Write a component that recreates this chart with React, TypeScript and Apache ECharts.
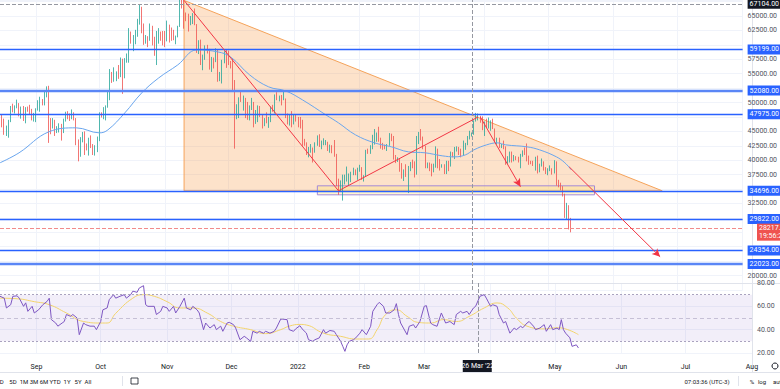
import React, { useEffect, useRef } from 'react';
import * as echarts from 'echarts';

// ---- DATA (BTC daily, [open, close, low, high]) ----
const START_DATE = '2021-08-15';
const END_DATE = '2022-08-01';

const AUG21 = [
  [47100,47000,45500,47400],[47000,45900,45700,48000],[45900,44700,44400,47200],[44700,44800,44200,46000],
  [44800,46800,43900,47000],[46800,49300,46600,49400],[49300,48900,48300,49800],[48900,49300,48100,49500],
  [49300,49500,49000,50500],[49500,47700,47600,49900],[47700,48900,47200,49300],[48900,47000,46800,49400],
  [47000,49100,46400,49200],[49100,48900,48400,49300],[48900,48800,48000,49600],[48800,47000,46900,48900],
  [47000,47200,46700,48200]
];
const SEP21 = [
  [47200,48800,46600,49000],[48800,49300,48600,50400],[49300,50000,48400,51000],[50000,49900,49500,50600],
  [49900,51800,49500,51900],[51800,52700,50900,52800],[52700,46900,43000,52900],[46900,46100,44500,47300],
  [46100,46400,45500,47300],[46400,44800,44200,47000],[44800,45200,44700,45900],[45200,46100,44800,46400],
  [46100,44900,43400,46300],[44900,47100,44700,47200],[47100,48100,46700,48400],[48100,47800,47100,48500],
  [47800,47300,46800,48100],[47300,48300,47100,48800],[48300,47200,46900,48300],[47200,43000,42600,47300],
  [43000,40700,39800,43600],[40700,43600,40600,44000],[43600,44900,43100,44900],[44900,42800,40900,45000],
  [42800,42700,41700,42900],[42700,43200,40800,43900],[43200,42200,42100,44300],[42200,41000,40900,42800],
  [41000,41500,40800,42600],[41500,43800,41400,44100]
];
const OCT21 = [
  [43800,48100,43300,48300],[48100,47700,47400,48300],[47700,48200,47100,49200],[48200,49200,46900,49500],
  [49200,51500,49100,51900],[51500,55300,50400,55800],[55300,53800,53400,55300],[53800,53900,53600,56100],
  [53900,55000,53700,55400],[55000,54700,54100,56500],[54700,57500,54400,57800],[57500,56000,51500,57600],
  [56000,57400,54200,57700],[57400,57400,56900,58500],[57400,61700,56900,62900],[61700,60900,60200,62300],
  [60900,61500,58900,61700],[61500,62000,60100,62600],[62000,64300,61400,64500],[64300,66000,63500,67000],
  [66000,62200,62000,66600],[62200,60700,60000,63700],[60700,61300,60200,61700],[61300,60800,59600,61500],
  [60800,63100,60700,63700],[63100,60300,59900,63300],[60300,58400,58100,61400],[58400,60600,56500,62400],
  [60600,62300,60200,62900],[62300,61900,60700,62300],[61900,61300,59900,62400]
];
const NOV21 = [
  [61300,61000,59600,62400],[61000,63200,60600,64200],[63200,62900,60400,63500],[62900,61400,60700,63000],
  [61400,61000,60800,62600],[61000,61500,60100,61600],[61500,63300,61300,63300],[63300,67500,63100,67800],
  [67500,66900,66300,68500],[66900,64900,62800,69000],[64900,64800,64100,65600],[64800,64200,62300,65400],
  [64200,64400,63400,65000],[64400,65500,63600,65500],[65500,63600,63400,66300],[63600,60100,58600,63600],
  [60100,60400,58400,60800],[60400,56900,56500,60900],[56900,58100,55600,58300],[58100,59700,57400,59900],
  [59700,58700,58500,60000],[58700,56300,55700,59300],[56300,57600,55300,57900],[57600,57200,55900,57800],
  [57200,58900,57000,59400],[58900,53700,53600,59200],[53700,54700,53700,55300],[54700,57300,53300,57400],
  [57300,57800,56800,58900],[57800,57000,56000,59200]
];
const DEC21 = [
  [57000,56900,56500,59000],[56900,56500,55900,57200],[56500,53600,52000,57600],[53600,49200,42000,53900],
  [49200,49400,47100,49700],[49400,50600,47300,50900],[50600,50500,50100,51900],[50500,50600,48600,51200],
  [50600,47600,47300,50800],[47600,47100,47000,50100],[47100,49400,46900,49500],[49400,50100,48700,50800],
  [50100,46700,45700,50100],[46700,48400,46300,48700],[48400,48900,46600,49500],[48900,47600,47500,49400],
  [47600,46200,45500,48000],[46200,46800,45900,47300],[46800,46700,46400,48300],[46700,46900,45600,47500],
  [46900,49000,46600,49300],[49000,48600,48400,49600],[48600,50800,48100,51400],[50800,50400,50400,51800],
  [50400,50800,50200,51200],[50800,50700,49500,51300],[50700,50700,50400,52000],[50700,47500,47300,50700],
  [47500,46500,46200,48100],[46500,47100,46000,47900],[47100,46200,45700,48500]
];
const JAN22 = [
  [46200,47700,46200,47900],[47700,47300,46700,47900],[47300,46400,45700,47500],[46400,45800,45500,47500],
  [45800,43400,42500,47000],[43400,43100,42500,43700],[43100,41600,40900,43100],[41600,41700,40500,42300],
  [41700,41900,41300,42800],[41900,41800,39600,42200],[41800,42700,41300,43100],[42700,43900,42500,44300],
  [43900,42600,42300,44500],[42600,43100,41900,43400],[43100,43100,42600,43800],[43100,43150,42600,43500],
  [43100,42200,41600,43200],[42200,42400,41300,42700],[42400,41700,41200,42600],[41700,40700,40600,43500],
  [40700,36500,35500,41100],[36500,35100,34000,36800],[35100,36300,34600,36500],[36300,36700,33000,37500],
  [36700,36900,35800,37500],[36900,37000,36300,38900],[37000,37100,35600,37700],[37100,37800,36200,38000],
  [37800,38200,37400,38700],[38200,37900,37400,38400],[37900,38500,36600,38700]
];
const FEB22 = [
  [38500,38700,38000,39200],[38700,36900,36600,38800],[36900,37300,36300,37400],[37300,41600,37100,41800],
  [41600,41400,41100,42000],[41400,42400,41100,42600],[42400,43800,41900,44400],[43800,44100,42700,45400],
  [44100,44400,43200,44800],[44400,43600,43200,45800],[43600,42400,42000,43900],[42400,42200,41800,43000],
  [42200,42100,41900,42700],[42100,42600,41600,42800],[42600,44600,42500,44700],[44600,44000,43300,44600],
  [44000,40600,40100,44200],[40600,40000,39500,40900],[40000,40100,39700,40500],[40100,38400,38000,40200],
  [38400,37000,36800,39500],[37000,38300,36400,38400],[38300,37300,37100,39300],[37300,38300,34300,39000],
  [38300,39200,38100,39700],[39200,39100,38600,40100],[39100,37700,37000,39800],[37700,43200,37500,44200]
];
const MAR22 = [
  [43200,44400,42800,44900],[44400,44000,43400,45400],[44000,42500,41900,44100],[42500,39100,38600,42500],
  [39100,39400,38600,39600],[39400,38400,38100,39600],[38400,38000,37200,39400],[38000,38700,37900,39400],
  [38700,41900,38700,42400],[41900,39400,38600,42000],[39400,38800,38200,40200],[38800,38850,38700,39300],
  [38800,37800,37600,39300],[37800,39700,37600,39900],[39700,39300,38100,39900],[39300,41100,38900,41500],
  [41100,40900,40500,41400],[40900,41800,40200,42300],[41800,42200,41500,42400],[42200,41300,40900,42300],
  [41300,41000,40500,42000],[41000,42400,40900,43400],[42400,42900,41800,43000],[42900,44000,42600,44200],
  [44000,44300,43600,45100],[44300,44500,44100,44800],[44500,46800,44400,46900],[46800,47100,46700,48200],
  [47100,47400,46900,48100],[47400,47100,46500,47700],[47100,45500,45200,47600]
];
const APR22 = [
  [45500,46300,44200,46700],[46300,45800,45600,47200],[45800,46400,45500,47400],[46400,46600,45100,46900],
  [46600,45500,45400,47200],[45500,43200,43100,45500],[43200,43400,42700,43900],[43400,42300,42100,43900],
  [42300,42800,42100,42800],[42800,42200,41900,43400],[42200,39500,39200,42400],[39500,40100,39300,40700],
  [40100,41100,39600,41500],[41100,39900,39600,41500],[39900,40600,39800,40900],[40600,40400,40000,40700],
  [40400,39700,39600,40600],[39700,40800,38600,41100],[40800,41500,40600,41700],[41500,41400,40900,42200],
  [41400,40500,39800,42900],[40500,39700,39200,40800],[39700,39500,39300,39900],[39500,39450,39000,39900],
  [39500,40400,38200,40600],[40400,38100,37700,40800],[38100,39200,37900,39400],[39200,39700,38900,40300],
  [39700,38600,38200,39800],[38600,37700,37600,38800]
];
const MAY22 = [
  [37700,38500,37400,38600],[38500,38550,38100,39100],[38500,37700,37500,38600],[37700,39700,37700,40000],
  [39700,36600,35600,39800],[36600,36000,35300,36600],[36000,35500,34800,36100],[35500,34100,33700,35500],
  [34100,30100,30000,34200],[30100,31000,29800,32600],[31000,29100,28000,32200],[29100,28217,27500,30000]
];

// Moving average: [date, value]
const MA_LINE: [string, number][] = [
  ['2021-08-15',39550],['2021-08-24',41280],['2021-09-07',44910],['2021-09-20',45610],['2021-10-01',44740],
  ['2021-10-05',45260],['2021-10-13',48200],['2021-10-21',51670],['2021-10-29',54260],['2021-11-07',56515],
  ['2021-11-16',59110],['2021-11-26',58770],['2021-12-02',57900],['2021-12-11',54785],['2021-12-20',52710],
  ['2021-12-28',52010],['2022-01-05',50450],['2022-01-16',47860],['2022-01-22',46470],['2022-01-30',44400],
  ['2022-02-08',43010],['2022-02-16',42320],['2022-02-24',41450],['2022-03-04',41280],['2022-03-12',40760],
  ['2022-03-18',40580],['2022-03-23',40930],['2022-03-27',41800],['2022-04-02',42660],['2022-04-07',43010],
  ['2022-04-11',42660],['2022-04-21',42320],['2022-04-27',41800],['2022-05-05',40580],['2022-05-09',39550],
  ['2022-05-12',38330]
];

// RSI: [day offset from START_DATE, value]
const RSI_LINE: [number, number][] = [
  [0,68.6],[2,67],[3,58.6],[5,61.4],[6,68.6],[8,69],[9,67],[11,60],[12,63],[13,55.7],[15,60],[16,54.3],[18,57],
  [20,61.4],[22,64.3],[23,67],[24,48.6],[26,45.7],[27,43],[29,45.7],[30,47],[31,53],[33,51.4],[34,53],[36,50],
  [37,35.7],[39,45.7],[40,44.3],[42,43],[44,43],[45,40],[47,47],[48,57],[50,58.6],[51,65.7],[53,70],[54,67],
  [56,68.6],[58,70],[59,67],[61,70],[62,73],[64,72],[65,75.7],[67,77.7],[68,61.4],[69,60],[72,60],[73,53],
  [75,55.7],[76,60],[78,58.6],[79,55.7],[81,60],[82,54.3],[84,60],[86,67],[87,58.6],[89,57],[90,60],[92,57],
  [93,54.3],[95,40],[96,45.7],[98,41.4],[100,44.3],[101,40],[103,43],[104,38.6],[106,45.7],[107,46.3],[109,44.3],
  [110,41.4],[112,31.4],[114,34.3],[115,33],[117,30],[118,38.6],[120,37],[121,38.6],[123,37],[124,38.6],[126,37],
  [128,38.6],[129,41.4],[131,49],[132,49],[134,48.6],[135,40],[137,38.6],[138,40.7],[140,43.4],[141,40.7],
  [143,37.1],[144,31.4],[146,30],[147,31.4],[149,32.9],[151,40],[152,37],[154,39.3],[156,38.6],[157,35.7],
  [159,30],[160,25.7],[161,21.4],[162,27],[163,30],[165,31.4],[166,32.9],[168,37],[169,40],[171,35.7],[173,42.9],
  [174,55.7],[176,61.4],[177,63.4],[179,60],[180,54.3],[182,54.3],[184,57],[185,62.3],[186,52.9],[187,45.7],
  [190,35.7],[191,42.9],[193,44.3],[194,41.4],[196,47],[198,60],[199,60.6],[201,45.7],[202,44.3],[204,42.9],
  [206,54.3],[208,45.7],[210,47],[212,44.3],[213,53],[215,55.7],[216,54.3],[218,55.7],[219,53],[221,58.6],
  [222,60],[224,68.6],[226,70],[227,67],[229,60],[230,61.4],[232,60],[233,53],[235,45.7],[236,47],[238,37],
  [240,41.4],[241,40],[243,42.9],[244,41.6],[246,45.7],[247,47],[249,43],[250,40],[252,41.4],[254,44.3],
  [255,38.6],[257,44.3],[258,40],[260,41.4],[261,40],[262,48.6],[263,40],[264,37],[266,33],[267,25.7],[269,27],
  [270,24.3]
];
const RSI_MA_LINE: [number, number][] = [
  [0,67],[8,66.5],[16,64],[23,61.4],[31,54.3],[39,47],[47,45.7],[50,45.7],[54,54],[62,67],[67,70],[72,68.6],
  [78,64],[84,58.6],[90,58.6],[97,54],[103,47],[109,43],[117,40],[124,36.6],[131,40],[135,43],[140,44.5],
  [143,44],[151,37],[159,34.3],[166,32],[172,32],[176,40],[180,53],[185,57],[190,51.4],[195,46.3],[201,45.7],
  [207,48.6],[213,47],[219,51.4],[226,58.6],[232,62.9],[237,58.6],[241,50],[246,43],[254,40.7],[260,41.6],
  [265,40],[270,35.7]
];

const LEVELS = [59199, 52080, 47975, 34696, 29822, 24354, 22023];
const DOUBLE_LEVELS = [52080, 22023];
const LAST_PRICE = 28217.2;
const LAST_COUNTDOWN = '19:56:26';
const CROSS_PRICE = 67104;
const CROSS_DATE = '2022-03-26';
const CROSS_LABEL = "26 Mar '22";
const HIDDEN_TICKS = [67500, 60000, 52500, 47500, 35000, 30000, 27500, 25000, 22500];
const MONTHS = ['Jan','Feb','Mar','Apr','May','Jun','Jul','Aug','Sep','Oct','Nov','Dec'];
const RANGE_BUTTONS = ['1D', '5D', '1M', '3M', '6M', 'YTD', '1Y', '5Y', 'All'];

// drawings in data space: [date, price]
const TRIANGLE: [string, number][] = [['2021-11-10', 67700], ['2022-06-24', 34696], ['2021-11-10', 34696]];
const ZONE_RECT: [string, number][] = [['2022-01-12', 35560], ['2022-05-23', 34000]];
const RED_LINES: { from: [string, number]; to: [string, number]; arrow: boolean }[] = [
  { from: ['2021-11-10', 67700], to: ['2022-01-22', 34696], arrow: false },
  { from: ['2022-01-22', 34696], to: ['2022-03-29', 47500], arrow: false },
  { from: ['2022-03-30', 47500], to: ['2022-04-18', 35400], arrow: true },
  { from: ['2022-05-11', 38850], to: ['2022-06-23', 23270], arrow: true },
];

function buildDates(start: string, end: string): string[] {
  const out: string[] = [];
  const d = new Date(start + 'T00:00:00Z');
  const e = new Date(end + 'T00:00:00Z');
  while (d.getTime() <= e.getTime()) {
    out.push(d.toISOString().slice(0, 10));
    d.setUTCDate(d.getUTCDate() + 1);
  }
  return out;
}

export default function App() {
  const ref = useRef<HTMLDivElement>(null);
  useEffect(() => {
    if (!ref.current) return;
    const chart = echarts.init(ref.current, null, { renderer: 'svg' });
    const dates = buildDates(START_DATE, END_DATE);
    const idx = (d: string) => dates.indexOf(d);
    const candles = [...AUG21, ...SEP21, ...OCT21, ...NOV21, ...DEC21, ...JAN22, ...FEB22, ...MAR22, ...APR22, ...MAY22];
    const isMonthStart = (_i: number, v: string) => v.slice(8) === '01';
    const font = 'Roboto, "Noto Sans", sans-serif';
    const axisLabelStyle = { fontSize: 7, color: '#50535e', fontFamily: font };
    const fmtPrice = (v: number) => Number(v).toFixed(2);
    const boxLabel = (bg: string, text?: string) => ({
      show: true, position: 'end', distance: 5, formatter: text ? text : (p: any) => fmtPrice(p.value),
      backgroundColor: bg, color: '#ffffff', fontSize: 7, padding: [1, 3, 1, 2], fontFamily: font, lineHeight: 8,
    });

    const levelLines: any[] = LEVELS.map((v) => ({
      yAxis: v,
      lineStyle: DOUBLE_LEVELS.includes(v)
        ? { color: '#5a86f6', width: 2.4, type: 'solid' }
        : { color: '#2962ff', width: 1.3, type: 'solid' },
      label: boxLabel('#2962ff'),
    }));
    levelLines.push({
      yAxis: LAST_PRICE,
      lineStyle: { color: '#f28b8b', width: 1, type: 'dashed' },
      label: { show: false },
    });
    levelLines.push({
      yAxis: CROSS_PRICE,
      lineStyle: { color: '#9598a1', width: 1, type: 'dashed' },
      label: boxLabel('#131722', CROSS_PRICE.toFixed(2)),
    });
    levelLines.push({
      xAxis: idx(CROSS_DATE),
      lineStyle: { color: '#9598a1', width: 1, type: 'dashed' },
      label: { show: false },
    });

    const redLines = RED_LINES.map((l) => [
      { coord: [idx(l.from[0]), l.from[1]], symbol: 'none' },
      { coord: [idx(l.to[0]), l.to[1]], symbol: l.arrow ? 'arrow' : 'none', symbolSize: [6, 8] },
    ]);

    const option: any = {
      animation: false,
      backgroundColor: '#ffffff',
      textStyle: { fontFamily: font },
      grid: [
        { left: 0, right: 28, top: 0, height: 290 },
        { left: 0, right: 28, top: 283, height: 70 },
      ],
      xAxis: [
        {
          type: 'category', gridIndex: 0, data: dates, boundaryGap: false,
          axisLine: { show: false }, axisTick: { show: false }, axisLabel: { show: false },
          splitLine: { show: true, interval: isMonthStart, lineStyle: { color: '#f0f3fa', width: 1 } },
        },
        {
          type: 'category', gridIndex: 1, data: dates, boundaryGap: false,
          axisLine: { show: false }, axisTick: { show: false },
          splitLine: { show: true, interval: isMonthStart, lineStyle: { color: '#f0f3fa', width: 1 } },
          axisLabel: {
            ...axisLabelStyle, margin: 10, color: '#131722', showMaxLabel: true,
            interval: (_i: number, v: string) => v.slice(8) === '01' && v.slice(5, 7) !== '04',
            formatter: (v: string) => (v.slice(5, 7) === '01' ? v.slice(0, 4) : MONTHS[Number(v.slice(5, 7)) - 1]),
          },
        },
      ],
      yAxis: [
        {
          type: 'value', gridIndex: 0, position: 'right', min: 17500, max: 67771, interval: 2500, scale: true,
          axisLine: { show: false }, axisTick: { show: false },
          splitLine: { show: true, lineStyle: { color: '#f0f3fa' } },
          axisLabel: {
            ...axisLabelStyle, margin: 5, showMinLabel: false, showMaxLabel: false,
            formatter: (v: number) => (HIDDEN_TICKS.includes(v) ? '' : fmtPrice(v)),
          },
        },
        {
          type: 'value', gridIndex: 1, position: 'right', min: 20, max: 80, interval: 20,
          axisLine: { show: false }, axisTick: { show: false },
          splitLine: { show: true, lineStyle: { color: '#f0f3fa' } },
          axisLabel: { ...axisLabelStyle, margin: 5, formatter: (v: number) => v.toFixed(2) },
        },
      ],
      series: [
        {
          type: 'custom', name: 'triangle', xAxisIndex: 0, yAxisIndex: 0, z: 1, clip: true, silent: true,
          data: [[0, 0]],
          renderItem: (_p: any, api: any) => {
            const tri = TRIANGLE.map((p) => api.coord([idx(p[0]), p[1]]));
            const r0 = api.coord([idx(ZONE_RECT[0][0]), ZONE_RECT[0][1]]);
            const r1 = api.coord([idx(ZONE_RECT[1][0]), ZONE_RECT[1][1]]);
            return {
              type: 'group',
              children: [
                { type: 'polygon', shape: { points: tri }, style: { fill: 'rgba(249,160,80,0.3)', stroke: '#f5a35a', lineWidth: 1 } },
                {
                  type: 'rect',
                  shape: { x: r0[0], y: r0[1], width: r1[0] - r0[0], height: r1[1] - r0[1] },
                  style: { fill: 'rgba(255,230,120,0.35)', stroke: '#a389d8', lineWidth: 1 },
                },
              ],
            };
          },
        },
        {
          type: 'candlestick', name: 'BTC', xAxisIndex: 0, yAxisIndex: 0, z: 3,
          data: candles, barWidth: 1.2,
          itemStyle: { color: '#26a69a', color0: '#ef5350', borderColor: '#26a69a', borderColor0: '#ef5350', borderWidth: 0.8 },
          markLine: { silent: true, symbol: ['none', 'none'], animation: false, data: levelLines },
        },
        {
          type: 'line', name: 'MA', xAxisIndex: 0, yAxisIndex: 0, z: 4,
          data: MA_LINE.map((p) => [idx(p[0]), p[1]]), smooth: 0.4, showSymbol: false,
          lineStyle: { color: '#6aa6ee', width: 1 },
          markLine: {
            silent: true, symbol: ['none', 'none'], animation: false,
            lineStyle: { color: '#f23645', width: 1, type: 'solid' },
            itemStyle: { color: '#f23645' },
            label: { show: false },
            data: redLines,
          },
        },
        {
          type: 'line', name: 'RSI', xAxisIndex: 1, yAxisIndex: 1, z: 4,
          data: RSI_LINE, showSymbol: false, lineStyle: { color: '#7e57c2', width: 1 },
          markArea: { silent: true, itemStyle: { color: 'rgba(126,87,194,0.1)' }, data: [[{ yAxis: 70 }, { yAxis: 30 }]] },
          markLine: {
            silent: true, symbol: ['none', 'none'], animation: false, label: { show: false },
            data: [
              { yAxis: 70, lineStyle: { color: '#aaa3bf', type: [2, 2], width: 1 } },
              { yAxis: 50, lineStyle: { color: '#c6c0d6', type: [4, 3], width: 1 } },
              { yAxis: 30, lineStyle: { color: '#aaa3bf', type: [2, 2], width: 1 } },
              { xAxis: idx(CROSS_DATE), lineStyle: { color: '#9598a1', type: 'dashed', width: 1 } },
            ],
          },
        },
        {
          type: 'line', name: 'RSI MA', xAxisIndex: 1, yAxisIndex: 1, z: 3,
          data: RSI_MA_LINE, smooth: 0.5, showSymbol: false, lineStyle: { color: '#f3d46b', width: 1 },
        },
      ],
    };
    chart.setOption(option);

    const cx = chart.convertToPixel({ xAxisIndex: 1 }, idx(CROSS_DATE)) as number;
    const py = chart.convertToPixel({ yAxisIndex: 0 }, LAST_PRICE) as number;
    const sep = '#e0e3eb';
    const toolbarX = [0, 13, 24, 34, 44, 55, 67, 78, 88];
    const tb = (text: string, x: number, align: string = 'center') => ({
      type: 'text', x, y: 381, silent: true,
      style: { text, fontSize: 6, fill: '#131722', align, verticalAlign: 'middle', fontFamily: font },
    });
    chart.setOption({
      graphic: [
        { type: 'line', shape: { x1: 0, y1: 283.5, x2: 780, y2: 283.5 }, style: { stroke: sep, lineWidth: 1 } },
        { type: 'line', shape: { x1: 0, y1: 372.5, x2: 780, y2: 372.5 }, style: { stroke: sep, lineWidth: 1 } },
        { type: 'line', shape: { x1: 752.5, y1: 0, x2: 752.5, y2: 372 }, style: { stroke: sep, lineWidth: 1 } },
        // current price tag
        { type: 'rect', shape: { x: 757, y: py - 4.5, width: 30, height: 17 }, style: { fill: '#ef5350' }, z: 20 },
        {
          type: 'text', x: 759, y: py, z: 21,
          style: { text: LAST_PRICE.toFixed(2), fontSize: 7, fill: '#ffffff', align: 'left', verticalAlign: 'middle', fontFamily: font },
        },
        {
          type: 'text', x: 759, y: py + 7.5, z: 21,
          style: { text: LAST_COUNTDOWN, fontSize: 7, fill: '#ffffff', align: 'left', verticalAlign: 'middle', fontFamily: font },
        },
        // crosshair date tag
        { type: 'rect', shape: { x: cx - 15, y: 360, width: 29, height: 12 }, style: { fill: '#131722' }, z: 10 },
        {
          type: 'text', x: cx, y: 366, z: 11,
          style: { text: CROSS_LABEL, fontSize: 7, fill: '#ffffff', align: 'center', verticalAlign: 'middle', fontFamily: font },
        },
        ...RANGE_BUTTONS.map((t, i) => tb(t, toolbarX[i])),
        { type: 'line', shape: { x1: 122.5, y1: 376, x2: 122.5, y2: 386 }, style: { stroke: sep, lineWidth: 1 } },
        { type: 'rect', shape: { x: 131, y: 378, width: 7, height: 6 }, style: { fill: 'none', stroke: '#131722', lineWidth: 0.8 } },
        tb('07:03:36 (UTC-3)', 707),
        { type: 'line', shape: { x1: 738.5, y1: 376, x2: 738.5, y2: 386 }, style: { stroke: sep, lineWidth: 1 } },
        tb('%', 752), tb('log', 762), tb('auto', 773, 'left'),
        { type: 'circle', shape: { cx: 775, cy: 366, r: 3 }, style: { fill: 'none', stroke: '#131722', lineWidth: 1 } },
      ],
    });

    return () => chart.dispose();
  }, []);

  return (
    <div
      ref={ref}
      style={{ position: 'fixed', left: 0, top: 0, width: 780, height: 389, overflow: 'hidden', background: '#fff' }}
    />
  );
}
